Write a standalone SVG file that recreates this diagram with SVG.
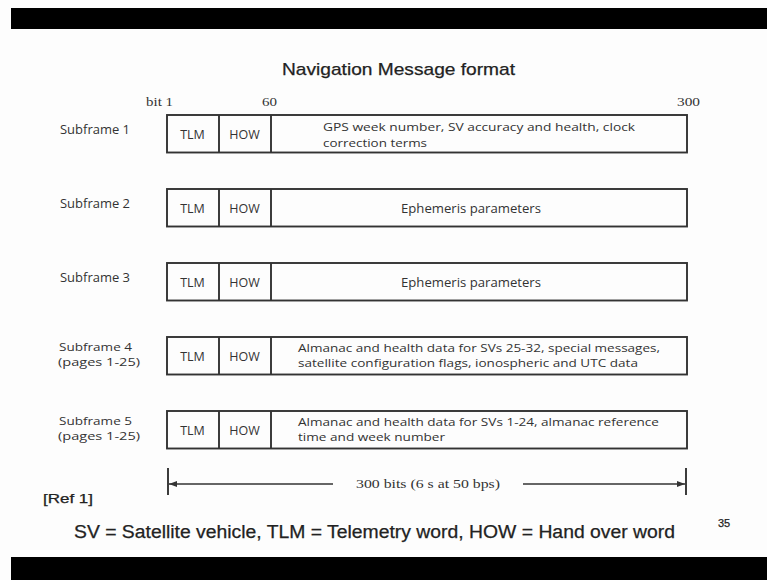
<svg xmlns="http://www.w3.org/2000/svg" width="767" height="580" viewBox="0 0 767 580">
  <defs>
    <style>
      .frame { fill: none; stroke: #333; stroke-width: 1.9; }
      .div { stroke: #333; stroke-width: 1.9; }
      .lbl { font-family: "Open Sans", "Liberation Sans", sans-serif; font-size: 11.5px; fill: #333; }
      .cell { font-family: "Open Sans", "Liberation Sans", sans-serif; font-size: 12.5px; fill: #333; text-anchor: middle; }
      .desc { font-family: "Open Sans", "Liberation Sans", sans-serif; font-size: 11.5px; fill: #333; }
      .one { font-size: 12.5px; }
      .scale { font-family: "Liberation Serif", serif; font-size: 12.5px; fill: #333; }
      .head { font-family: "Liberation Sans", Arial, sans-serif; fill: #222; stroke: #222; stroke-width: 0.25; }
    </style>
    <marker id="tip" viewBox="0 0 8 6" refX="8" refY="3" markerWidth="8" markerHeight="6" orient="auto-start-reverse" markerUnits="userSpaceOnUse">
      <path d="M0,0 L8,3 L0,6 Z" fill="#333"/>
    </marker>
  </defs>

  <!-- page -->
  <rect x="0" y="0" width="767" height="580" fill="#fdfdfd"/>
  <rect x="11" y="8" width="756" height="21" fill="#000"/>
  <rect x="11" y="557" width="756" height="23" fill="#000"/>

  <!-- title and bit scale -->
  <text class="head" x="282" y="75" font-size="17" textLength="233" lengthAdjust="spacingAndGlyphs">Navigation Message format</text>
  <text class="scale" x="146" y="106" textLength="27" lengthAdjust="spacingAndGlyphs">bit 1</text>
  <text class="scale" x="262" y="106" textLength="15" lengthAdjust="spacingAndGlyphs">60</text>
  <text class="scale" x="677" y="106" textLength="23" lengthAdjust="spacingAndGlyphs">300</text>

  <!-- subframe 1 -->
  <g id="subframe1">
    <text class="lbl one" x="60" y="134" textLength="70" lengthAdjust="spacingAndGlyphs">Subframe 1</text>
    <rect class="frame" x="167" y="115" width="520" height="37.5"/>
    <line class="div" x1="219" y1="115" x2="219" y2="152.5"/>
    <line class="div" x1="271" y1="115" x2="271" y2="152.5"/>
    <text class="cell" x="192.5" y="139">TLM</text>
    <text class="cell" x="244.5" y="139">HOW</text>
    <text class="desc" x="323" y="131" textLength="312" lengthAdjust="spacingAndGlyphs">GPS week number, SV accuracy and health, clock</text>
    <text class="desc" x="323" y="147" textLength="104" lengthAdjust="spacingAndGlyphs">correction terms</text>
  </g>

  <!-- subframe 2 -->
  <g id="subframe2">
    <text class="lbl one" x="60" y="208" textLength="70" lengthAdjust="spacingAndGlyphs">Subframe 2</text>
    <rect class="frame" x="167" y="189" width="520" height="37.5"/>
    <line class="div" x1="219" y1="189" x2="219" y2="226.5"/>
    <line class="div" x1="271" y1="189" x2="271" y2="226.5"/>
    <text class="cell" x="192.5" y="213">TLM</text>
    <text class="cell" x="244.5" y="213">HOW</text>
    <text class="desc one" x="401" y="213" textLength="140" lengthAdjust="spacingAndGlyphs">Ephemeris parameters</text>
  </g>

  <!-- subframe 3 -->
  <g id="subframe3">
    <text class="lbl one" x="60" y="282" textLength="70" lengthAdjust="spacingAndGlyphs">Subframe 3</text>
    <rect class="frame" x="167" y="263" width="520" height="37.5"/>
    <line class="div" x1="219" y1="263" x2="219" y2="300.5"/>
    <line class="div" x1="271" y1="263" x2="271" y2="300.5"/>
    <text class="cell" x="192.5" y="287">TLM</text>
    <text class="cell" x="244.5" y="287">HOW</text>
    <text class="desc one" x="401" y="287" textLength="140" lengthAdjust="spacingAndGlyphs">Ephemeris parameters</text>
  </g>

  <!-- subframe 4 -->
  <g id="subframe4">
    <text class="lbl" x="59" y="351" textLength="73" lengthAdjust="spacingAndGlyphs">Subframe 4</text>
    <text class="lbl" x="58" y="366" textLength="82" lengthAdjust="spacingAndGlyphs">(pages 1-25)</text>
    <rect class="frame" x="167" y="337" width="520" height="37.5"/>
    <line class="div" x1="219" y1="337" x2="219" y2="374.5"/>
    <line class="div" x1="271" y1="337" x2="271" y2="374.5"/>
    <text class="cell" x="192.5" y="361">TLM</text>
    <text class="cell" x="244.5" y="361">HOW</text>
    <text class="desc" x="298" y="352" textLength="362" lengthAdjust="spacingAndGlyphs">Almanac and health data for SVs 25-32, special messages,</text>
    <text class="desc" x="298" y="367" textLength="340" lengthAdjust="spacingAndGlyphs">satellite configuration flags, ionospheric and UTC data</text>
  </g>

  <!-- subframe 5 -->
  <g id="subframe5">
    <text class="lbl" x="59" y="425" textLength="73" lengthAdjust="spacingAndGlyphs">Subframe 5</text>
    <text class="lbl" x="58" y="440" textLength="82" lengthAdjust="spacingAndGlyphs">(pages 1-25)</text>
    <rect class="frame" x="167" y="411" width="520" height="37.5"/>
    <line class="div" x1="219" y1="411" x2="219" y2="448.5"/>
    <line class="div" x1="271" y1="411" x2="271" y2="448.5"/>
    <text class="cell" x="192.5" y="435">TLM</text>
    <text class="cell" x="244.5" y="435">HOW</text>
    <text class="desc" x="298" y="426" textLength="361" lengthAdjust="spacingAndGlyphs">Almanac and health data for SVs 1-24, almanac reference</text>
    <text class="desc" x="298" y="441" textLength="147" lengthAdjust="spacingAndGlyphs">time and week number</text>
  </g>

  <!-- overall length dimension -->
  <g id="connectors">
    <line class="div" x1="168" y1="468" x2="168" y2="495"/>
    <line class="div" x1="686" y1="468" x2="686" y2="495"/>
    <line x1="333" y1="484" x2="169" y2="484" stroke="#333" stroke-width="1.5" marker-end="url(#tip)"/>
    <line x1="523" y1="484" x2="685" y2="484" stroke="#333" stroke-width="1.5" marker-end="url(#tip)"/>
  </g>
  <text class="scale" x="356" y="488" textLength="144" lengthAdjust="spacingAndGlyphs">300 bits (6 s at 50 bps)</text>

  <!-- footer -->
  <text class="head" x="43" y="503" font-size="13" textLength="50" lengthAdjust="spacingAndGlyphs">[Ref 1]</text>
  <text class="head" x="74" y="538" font-size="18" textLength="601" lengthAdjust="spacingAndGlyphs">SV = Satellite vehicle, TLM = Telemetry word,  HOW = Hand over word</text>
  <text class="head" x="718" y="527" font-size="11" stroke-width="0">35</text>
</svg>
